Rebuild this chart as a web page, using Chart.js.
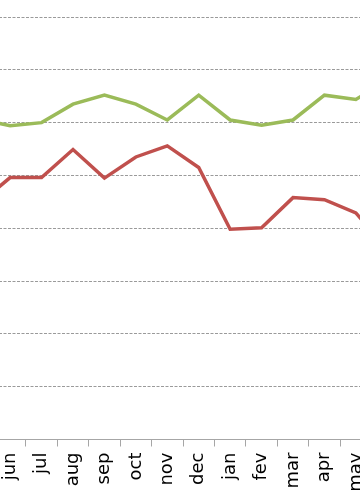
<!DOCTYPE html>
<html>
<head>
<meta charset="utf-8">
<script src="https://cdn.jsdelivr.net/npm/chart.js@4/dist/chart.umd.min.js"></script>
<style>
  html, body { margin: 0; padding: 0; background: #fff; overflow: hidden; }
  #wrap { position: relative; width: 360px; height: 504px; overflow: hidden; }
  #chart { position: absolute; left: -37px; top: 0; }
</style>
</head>
<body>
<div id="wrap">
  <canvas id="chart" width="440" height="504"></canvas>
</div>
<script>
// Months shown (first and last are the neighbours cut off at the edges)
const months = ['may', 'jun', 'jul', 'aug', 'sep', 'oct', 'nov', 'dec', 'jan', 'fev', 'mar', 'apr', 'may', 'jun'];
const greenValues = [60.7, 59.4, 60.0, 63.5, 65.2, 63.5, 60.5, 65.2, 60.5, 59.5, 60.5, 65.2, 64.4, 68.0];
const redValues = [44.6, 49.6, 49.6, 54.9, 49.5, 53.5, 55.6, 51.5, 39.8, 40.1, 45.8, 45.4, 42.9, 36.0];
const yTicks = [0, 10, 20, 30, 40, 50, 60, 70, 80];

const ctx = document.getElementById('chart').getContext('2d');
new Chart(ctx, {
  type: 'line',
  data: {
    labels: months,
    datasets: [
      {
        label: 'series 1',
        data: greenValues,
        borderColor: '#9bbb59',
        borderWidth: 3.5,
        pointRadius: 0,
        tension: 0,
      },
      {
        label: 'series 2',
        data: redValues,
        borderColor: '#c0504d',
        borderWidth: 3.5,
        pointRadius: 0,
        tension: 0,
      },
    ],
  },
  options: {
    responsive: false,
    animation: false,
    devicePixelRatio: 1,
    layout: { padding: { top: 17, left: 0, right: 0, bottom: 0 } },
    plugins: {
      legend: { display: false },
      tooltip: { enabled: false },
    },
    scales: {
      x: {
        offset: true,
        grid: {
          offset: true,
          drawOnChartArea: false,
          drawTicks: true,
          tickLength: 7,
          color: '#a6a6a6',
        },
        border: { display: true, color: '#a6a6a6', width: 1 },
        ticks: {
          autoSkip: false,
          minRotation: 90,
          maxRotation: 90,
          padding: 6,
          color: '#000',
          font: { family: 'DejaVu Sans', size: 18 },
        },
        afterFit: (scale) => {
          scale.height = 64.5;
          scale.paddingLeft = 0;
          scale.paddingRight = 0;
        },
      },
      y: {
        min: yTicks[0],
        max: yTicks[yTicks.length - 1],
        afterBuildTicks: (scale) => {
          scale.ticks = yTicks.map((v) => ({ value: v }));
        },
        ticks: { display: false },
        grid: {
          drawTicks: false,
          color: (c) => (c.tick && c.tick.value === 0 ? 'rgba(0,0,0,0)' : '#9a9a9a'),
        },
        border: { display: false, dash: [3, 1.5] },
        afterFit: (scale) => { scale.width = 0; },
      },
    },
  },
});
</script>
</body>
</html>
